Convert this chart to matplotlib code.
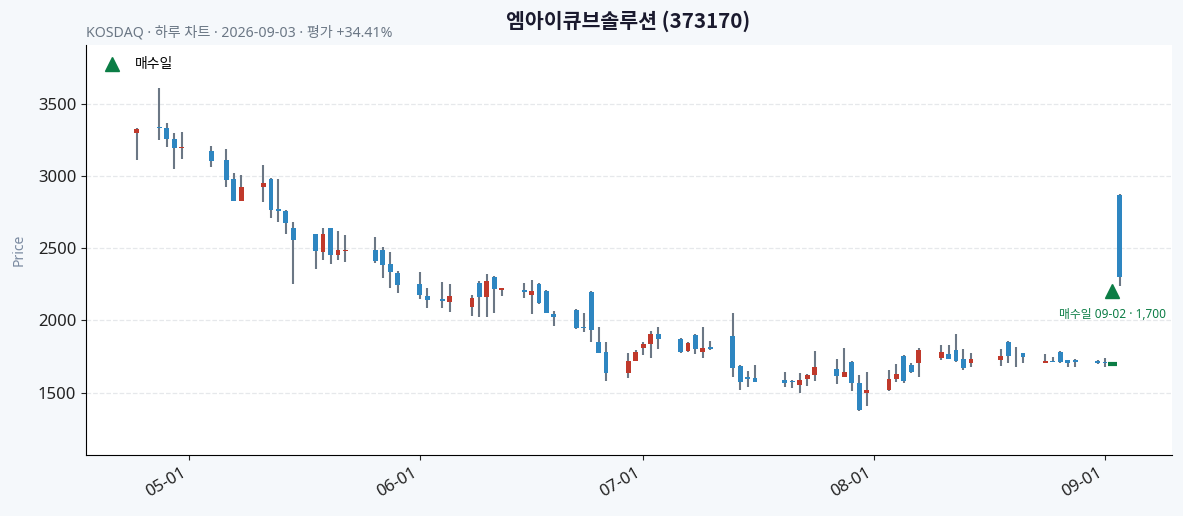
import datetime as dt
import matplotlib
matplotlib.use("Agg")
from matplotlib import pyplot as plt
import matplotlib.dates as mdates

plt.rcParams['font.family'] = ['Noto Sans', 'Noto Sans CJK KR', 'DejaVu Sans']

# daily candles (2026)
days = ["04-24", "04-27", "04-28", "04-29", "04-30", "05-04", "05-06", "05-07", "05-08",
        "05-11", "05-12", "05-13", "05-14", "05-15", "05-18", "05-19", "05-20", "05-21",
        "05-22", "05-26", "05-27", "05-28", "05-29", "06-01", "06-02", "06-04", "06-05",
        "06-08", "06-09", "06-10", "06-11", "06-12", "06-15", "06-16", "06-17", "06-18",
        "06-19", "06-22", "06-23", "06-24", "06-25", "06-26", "06-29", "06-30", "07-01",
        "07-02", "07-03", "07-06", "07-07", "07-08", "07-09", "07-10", "07-13", "07-14",
        "07-15", "07-16", "07-17", "07-20", "07-21", "07-22", "07-23", "07-24", "07-27",
        "07-28", "07-29", "07-30", "07-31", "08-03", "08-04", "08-05", "08-06", "08-07",
        "08-10", "08-11", "08-12", "08-13", "08-14", "08-18", "08-19", "08-20", "08-21",
        "08-24", "08-25", "08-26", "08-27", "08-28", "08-31", "09-01", "09-02", "09-03"]
opens = [3296, 3340, 3331, 3255, 3195, 3174, 3111, 2980, 2830,
         2927, 2980, 2770, 2758, 2641, 2599, 2477, 2638, 2451,
         2483, 2486, 2486, 2389, 2327, 2251, 2168, 2147, 2130,
         2096, 2258, 2165, 2301, 2213, 2211, 2179, 2251, 2204,
         2043, 2073, 1955, 2195, 1849, 1780, 1634, 1717, 1812,
         1835, 1904, 1870, 1791, 1899, 1780, 1814, 1892, 1685,
         1609, 1602, 1579, 1588, 1579, 1556, 1597, 1625, 1662,
         1611, 1711, 1565, 1500, 1517, 1593, 1757, 1692, 1703,
         1743, 1768, 1796, 1731, 1708, 1727, 1851, 1759, 1773,
         1708, 1720, 1784, 1727, 1727, 1720, 1711, 1700, 2870]
highs = [3331, 3608, 3370, 3296, 3308, 3206, 3186, 3019, 3010,
         3079, 2985, 2978, 2765, 2684, 2600, 2643, 2643, 2622,
         2594, 2580, 2507, 2477, 2345, 2334, 2223, 2265, 2255,
         2174, 2274, 2320, 2308, 2227, 2258, 2278, 2258, 2211,
         2064, 2080, 2050, 2202, 1957, 1853, 1773, 1796, 1849,
         1925, 1957, 1876, 1853, 1904, 1953, 1860, 2050, 1692,
         1650, 1690, 1583, 1643, 1586, 1634, 1627, 1787, 1731,
         1808, 1720, 1620, 1643, 1655, 1697, 1761, 1703, 1808,
         1831, 1828, 1904, 1801, 1777, 1801, 1858, 1819, 1777,
         1768, 1749, 1789, 1729, 1731, 1727, 1738, 1703, 2875]
lows = [3111, 3250, 3199, 3047, 3116, 3061, 2922, 2825, 2830,
        2819, 2708, 2680, 2597, 2253, 2355, 2417, 2389, 2417,
        2403, 2396, 2292, 2223, 2188, 2147, 2085, 2085, 2059,
        2031, 2022, 2022, 2054, 2168, 2154, 2043, 2112, 2050,
        1962, 1939, 1918, 1849, 1775, 1581, 1600, 1717, 1761,
        1738, 1801, 1778, 1784, 1766, 1738, 1799, 1611, 1519,
        1537, 1572, 1578, 1537, 1530, 1496, 1546, 1579, 1558,
        1607, 1512, 1373, 1408, 1512, 1576, 1565, 1639, 1607,
        1727, 1731, 1715, 1657, 1676, 1687, 1703, 1676, 1703,
        1703, 1714, 1703, 1680, 1680, 1699, 1680, 1698, 2240]
closes = [3324, 3330, 3255, 3197, 3200, 3107, 2975, 2830, 2922,
          2950, 2767, 2756, 2677, 2560, 2484, 2599, 2451, 2486,
          2487, 2412, 2387, 2338, 2248, 2179, 2144, 2133, 2170,
          2154, 2165, 2274, 2220, 2225, 2199, 2202, 2123, 2054,
          2022, 1946, 1946, 1934, 1777, 1634, 1717, 1780, 1837,
          1904, 1870, 1780, 1842, 1801, 1808, 1801, 1669, 1576,
          1595, 1576, 1582, 1569, 1574, 1588, 1623, 1676, 1618,
          1641, 1565, 1380, 1519, 1593, 1630, 1579, 1646, 1796,
          1780, 1733, 1720, 1669, 1731, 1754, 1757, 1763, 1745,
          1720, 1716, 1715, 1708, 1715, 1708, 1703, 1700, 2300]

buy_day = "09-02"
buy_price = 1700
buy_marker_y = 2205

UP = '#c0392b'
DOWN = '#2e86c1'
WICK = '#6b7785'
BUY = '#0b7d45'

x = [mdates.date2num(dt.datetime.strptime("2026-" + d, "%Y-%m-%d")) for d in days]

fig = plt.figure(figsize=(11.83, 5.16), dpi=100, facecolor='#f5f8fb')
ax = fig.add_axes([0.0727, 0.118, 0.918, 0.795])
ax.set_facecolor('white')

# wicks then bodies
ax.vlines(x, lows, highs, color=WICK, linewidth=1.5, zorder=2)
bottoms = [min(o, c) for o, c in zip(opens, closes)]
heights = [max(abs(c - o), 4) for o, c in zip(opens, closes)]
colors = [UP if c >= o else DOWN for o, c in zip(opens, closes)]
ax.bar(x, heights, bottom=bottoms, width=0.65, color=colors, linewidth=0, zorder=3)

# buy day
bx = mdates.date2num(dt.datetime.strptime("2026-" + buy_day, "%Y-%m-%d"))
ax.hlines(buy_price, bx - 0.6, bx + 0.6, color=BUY, linewidth=3, zorder=4)
ax.plot([bx], [buy_marker_y], marker='^', color=BUY, markersize=10, linestyle='none',
        label='매수일', zorder=5)
ax.annotate(f"매수일 {buy_day} · {buy_price:,}", (bx, buy_marker_y), xytext=(0, -17),
            textcoords='offset points', ha='center', va='center', color=BUY, fontsize=8.5)

ax.set_xlim(mdates.date2num(dt.datetime(2026, 4, 17, 4)), mdates.date2num(dt.datetime(2026, 9, 10)))
ax.set_ylim(1068, 3908)
ax.set_yticks([1500, 2000, 2500, 3000, 3500])
ax.xaxis.set_major_locator(mdates.MonthLocator())
ax.xaxis.set_major_formatter(mdates.DateFormatter('%m-%d'))
for lab in ax.get_xticklabels():
    lab.set_rotation(30)
    lab.set_ha('right')
ax.tick_params(labelsize=12, colors='#222222')

ax.grid(axis='y', linestyle='--', color='#e6e8eb', linewidth=0.9)
ax.set_axisbelow(True)
ax.spines['top'].set_visible(False)
ax.spines['right'].set_visible(False)
ax.set_ylabel('Price', color='#7a8aa0', fontsize=10, labelpad=8)

ax.legend(loc='upper left', frameon=False, fontsize=10, handletextpad=0.6)

fig.text(0.531, 0.958, '엠아이큐브솔루션 (373170)', ha='center', va='center',
         fontsize=14.8, fontweight='bold', color='#1a1a2e', family=['Noto Sans CJK KR', 'DejaVu Sans'])
fig.text(0.0727, 0.936, 'KOSDAQ · 하루 차트 · 2026-09-03 · 평가 +34.41%', ha='left', va='center',
         fontsize=10.2, color='#6b7785')

fig.savefig('out.png', dpi=100, facecolor=fig.get_facecolor())
